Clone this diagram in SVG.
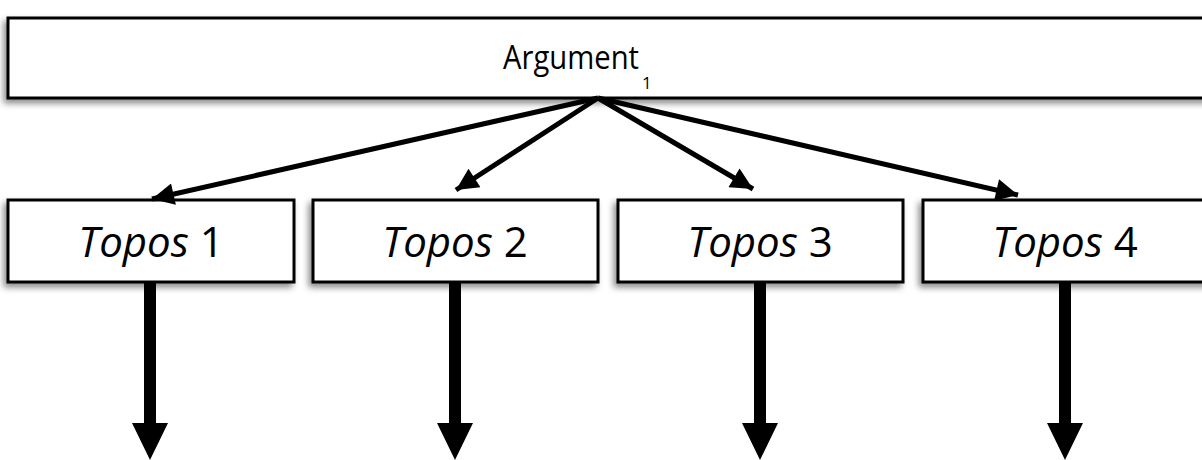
<svg xmlns="http://www.w3.org/2000/svg" width="1202" height="460" viewBox="0 0 1202 460">
<defs>
<style>
.box{fill:#fff;stroke:#000;stroke-width:3;filter:url(#sh)}
.lbl{font-family:"Open Sans","Liberation Sans",sans-serif;fill:#000}
.tp{font-size:42px;text-anchor:middle}
.it{font-style:italic}
.con{stroke:#000;stroke-width:5;fill:none;marker-end:url(#ah)}
.down{fill:#000}
</style>
<filter id="sh" x="-10%" y="-20%" width="120%" height="150%">
<feDropShadow dx="-3" dy="4" stdDeviation="3" flood-color="#000" flood-opacity="0.45"/>
</filter>
<marker id="ah" viewBox="0 0 10 10" refX="10" refY="5" markerWidth="5" markerHeight="4.4" markerUnits="strokeWidth" orient="auto">
<path d="M0,0 L10,5 L0,10 z" fill="#000"/>
</marker>
</defs>
<g id="argument">
<rect class="box" x="8" y="18" width="1210" height="80"/>
<text class="lbl" x="503" y="69" font-size="33" textLength="136" lengthAdjust="spacingAndGlyphs">Argument</text>
<text class="lbl" x="642" y="89" font-size="17">1</text>
</g>
<g id="topos1">
<rect class="box" x="8" y="200" width="286" height="82"/>
<text class="lbl tp" x="151" y="257"><tspan class="it">Topos</tspan> 1</text>
</g>
<g id="topos2">
<rect class="box" x="313" y="200" width="285" height="82"/>
<text class="lbl tp" x="455" y="257"><tspan class="it">Topos</tspan> 2</text>
</g>
<g id="topos3">
<rect class="box" x="618" y="200" width="285" height="82"/>
<text class="lbl tp" x="760" y="257"><tspan class="it">Topos</tspan> 3</text>
</g>
<g id="topos4">
<rect class="box" x="923" y="200" width="290" height="82"/>
<text class="lbl tp" x="1065" y="257"><tspan class="it">Topos</tspan> 4</text>
</g>
<g id="connectors">
<line class="con" x1="598" y1="98" x2="152" y2="199"/>
<line class="con" x1="598" y1="98" x2="456" y2="190"/>
<line class="con" x1="598" y1="98" x2="753" y2="189"/>
<line class="con" x1="598" y1="98" x2="1018" y2="195"/>
<path class="down" d="M144,283 H156 V423 H168 L150,460 L132,423 H144 Z"/>
<path class="down" d="M449,283 H461 V423 H473 L455,460 L437,423 H449 Z"/>
<path class="down" d="M754,283 H766 V423 H778 L760,460 L742,423 H754 Z"/>
<path class="down" d="M1059,283 H1071 V423 H1083 L1065,460 L1047,423 H1059 Z"/>
</g>
</svg>
